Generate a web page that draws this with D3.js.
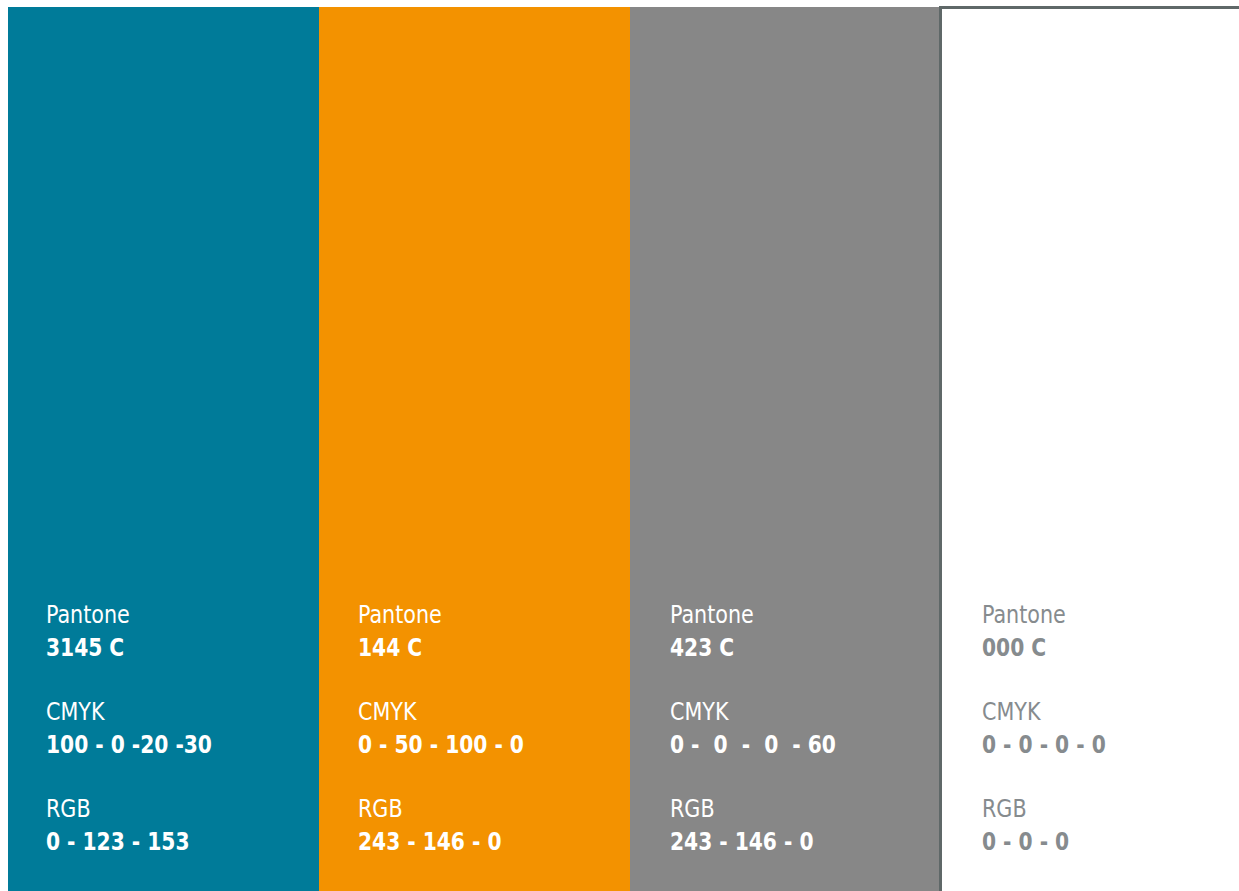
<!DOCTYPE html>
<html><head><meta charset="utf-8">
<script src="https://cdn.jsdelivr.net/npm/d3@7"></script>
<style>html,body{margin:0;padding:0;background:#fff;overflow:hidden}</style>
</head><body>
<script>
const swatches = ["teal", "orange", "gray", "white"];
const pantone = ["3145 C", "144 C", "423 C", "000 C"];
const cmyk = ["100 - 0 -20 -30", "0 - 50 - 100 - 0", "0 -  0  -  0  - 60", "0 - 0 - 0 - 0"];
const rgb = ["0 - 123 - 153", "243 - 146 - 0", "243 - 146 - 0", "0 - 0 - 0"];
const fills = ["#007b99", "#f39200", "#878787", "#ffffff"];
const inks = ["#ffffff", "#ffffff", "#ffffff", "#868b8e"];
const labels = ["Pantone", "CMYK", "RGB"];

const W = 1239, H = 891;
const svg = d3.select("body").append("svg").attr("width", W).attr("height", H);

const x = d3.scaleBand().domain(swatches).range([8, 8 + 4 * 311]).padding(0);
const xt = d3.scaleBand().domain(swatches).range([46, 46 + 4 * 312]).padding(0);
const y = d3.scaleBand().domain(labels).range([623, 623 + 3 * 97]);

const data = swatches.map((s, i) => ({s, i, vals: [pantone[i], cmyk[i], rgb[i]]}));

svg.selectAll("rect.sw").data(data).join("rect")
  .attr("class", "sw")
  .attr("x", d => d.s === "white" ? x(d.s) - 0.5 : x(d.s))
  .attr("y", d => d.s === "white" ? 7.5 : 7)
  .attr("width", d => d.s === "white" ? x.bandwidth() + 20 : x.bandwidth() + 0.5)
  .attr("height", H)
  .attr("fill", d => fills[d.i])
  .attr("stroke", d => d.s === "white" ? "#5f6868" : "none")
  .attr("stroke-width", 3);

const font = "'DejaVu Sans Condensed','DejaVu Sans',sans-serif";
const g = svg.selectAll("g.col").data(data).join("g").attr("class", "col");

labels.forEach((lab, k) => {
  g.append("text")
    .attr("transform", d => `translate(${xt(d.s)},${y(lab)}) scale(0.92,1)`)
    .attr("fill", d => inks[d.i])
    .style("font-family", font)
    .style("font-size", "25px")
    .text(lab);
  g.append("text")
    .attr("transform", d => `translate(${xt(d.s)},${y(lab) + 33}) scale(0.9,1)`)
    .attr("fill", d => inks[d.i])
    .style("font-family", font)
    .style("font-size", "25px").style("font-weight", "bold")
    .style("white-space", "pre")
    .text(d => d.vals[k]);
});
</script>
</body></html>
